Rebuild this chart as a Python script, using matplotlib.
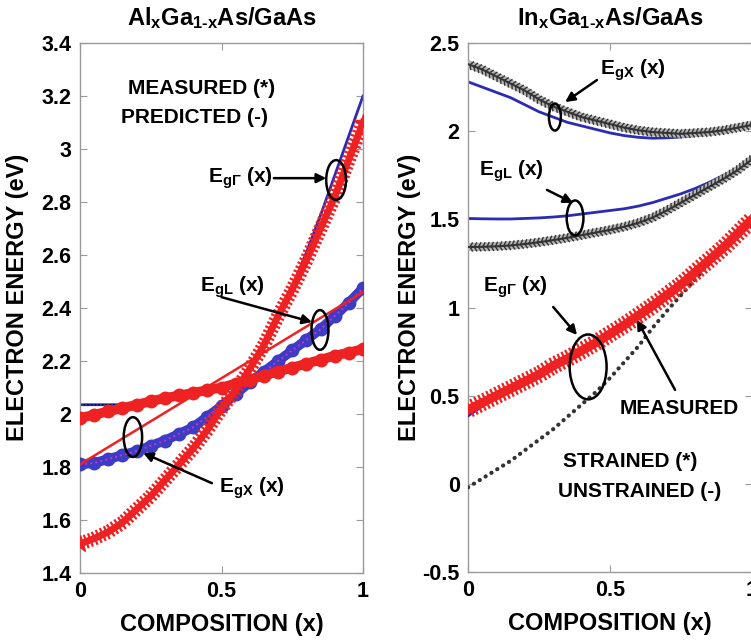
import numpy as np
import matplotlib
matplotlib.use("Agg")
from matplotlib import pyplot as plt
from matplotlib import patheffects as pe
from matplotlib.patches import Ellipse
from matplotlib.ticker import FuncFormatter

plt.rcParams['font.family'] = ['Liberation Sans', 'DejaVu Sans']
plt.rcParams['font.weight'] = 'bold'
plt.rcParams['mathtext.fontset'] = 'custom'
plt.rcParams['mathtext.rm'] = 'Liberation Sans:bold'
plt.rcParams['mathtext.it'] = 'Liberation Sans:bold'
plt.rcParams['mathtext.bf'] = 'Liberation Sans:bold'

# composition grid (step 0.05)
x = np.linspace(0, 1, 21)

# --- AlGaAs / GaAs (left) ---
al_gam_meas = [1.51, 1.53, 1.555, 1.59, 1.64, 1.69, 1.75, 1.81, 1.87, 1.94, 2.02,
               2.09, 2.17, 2.26, 2.37, 2.47, 2.58, 2.70, 2.82, 2.96, 3.10]
al_gam_pred = [1.51, 1.53, 1.555, 1.59, 1.64, 1.69, 1.75, 1.81, 1.87, 1.94, 2.02,
               2.09, 2.17, 2.26, 2.37, 2.48, 2.61, 2.75, 2.90, 3.05, 3.20]
al_egl_circ = [1.81, 1.815, 1.83, 1.845, 1.86, 1.88, 1.90, 1.925, 1.95, 1.99, 2.03,
               2.075, 2.12, 2.16, 2.20, 2.24, 2.28, 2.32, 2.37, 2.42, 2.475]
al_egx_circ = [1.985, 1.997, 2.01, 2.022, 2.035, 2.048, 2.06, 2.07, 2.08, 2.09, 2.10,
               2.115, 2.13, 2.145, 2.16, 2.175, 2.19, 2.205, 2.22, 2.232, 2.245]
al_egx_pred = [2.035, 2.035, 2.035, 2.035, 2.037, 2.048, 2.06, 2.07, 2.08, 2.09, 2.10,
               2.115, 2.13, 2.145, 2.16, 2.175, 2.19, 2.205, 2.22, 2.232, 2.245]
al_lin_x = [0, 1]
al_lin_y = [1.81, 2.46]

# --- InGaAs / GaAs (right) ---
in_egx_str = [2.38, 2.35, 2.31, 2.27, 2.23, 2.18, 2.14, 2.11, 2.08, 2.06, 2.04,
              2.02, 2.005, 1.995, 1.99, 1.985, 1.99, 1.995, 2.005, 2.02, 2.035]
in_egx_uns = [2.28, 2.25, 2.22, 2.19, 2.15, 2.11, 2.08, 2.05, 2.03, 2.01, 1.99,
              1.975, 1.965, 1.96, 1.962, 1.967, 1.975, 1.985, 1.998, 2.015, 2.03]
in_egl_str = [1.343, 1.344, 1.347, 1.352, 1.36, 1.37, 1.382, 1.395, 1.41, 1.425, 1.44,
              1.458, 1.48, 1.51, 1.55, 1.595, 1.64, 1.685, 1.73, 1.78, 1.84]
in_egl_uns = [1.505, 1.503, 1.502, 1.502, 1.505, 1.508, 1.513, 1.52, 1.53, 1.54, 1.55,
              1.56, 1.575, 1.595, 1.62, 1.645, 1.675, 1.71, 1.75, 1.79, 1.84]
in_gam_str = [0.42, 0.46, 0.50, 0.54, 0.58, 0.62, 0.67, 0.71, 0.755, 0.80, 0.85,
              0.90, 0.955, 1.01, 1.07, 1.13, 1.20, 1.27, 1.34, 1.42, 1.50]
in_gam_pred = [0.385, 0.44, 0.49, 0.53, 0.57, 0.61, 0.66, 0.70, 0.745, 0.79, 0.84,
               0.89, 0.945, 1.00, 1.06, 1.12, 1.19, 1.26, 1.33, 1.41, 1.49]
in_gam_uns = [-0.02, 0.03, 0.08, 0.13, 0.19, 0.25, 0.31, 0.38, 0.45, 0.52, 0.60,
              0.69, 0.78, 0.885, 0.98, 1.07, 1.16, 1.25, 1.34, 1.43, 1.52]

RED = '#ee2222'
BLUE = '#2b2bb5'
GRID = '#9a9a9a'
ARROW = dict(arrowstyle='-|>', color='black', lw=1.8, mutation_scale=14, shrinkA=0, shrinkB=0)


def star_band(width, tick):
    return [pe.Stroke(linewidth=width, foreground=RED),
            pe.TickedStroke(angle=90, spacing=3.2, length=tick, linewidth=1.6, foreground=RED),
            pe.TickedStroke(angle=-90, spacing=3.2, length=tick, linewidth=1.6, foreground=RED),
            pe.Normal()]


def gray_band():
    return [pe.Stroke(linewidth=6, foreground='#b5b5b5'),
            pe.TickedStroke(angle=60, spacing=3, length=1.1, linewidth=1.0, foreground='#333333'),
            pe.TickedStroke(angle=-60, spacing=3, length=1.1, linewidth=1.0, foreground='#333333'),
            pe.Normal()]


def style_axes(ax):
    for s in ax.spines.values():
        s.set_color(GRID)
        s.set_linewidth(1.0)
    ax.tick_params(direction='in', top=True, right=True, color=GRID, length=5,
                   labelsize=15.5, pad=6)
    ax.set_xlim(0, 1)
    ax.set_xticks([0, 0.5, 1])
    ax.xaxis.set_major_formatter(FuncFormatter(lambda v, p: '%g' % v))
    ax.yaxis.set_major_formatter(FuncFormatter(lambda v, p: '%g' % round(v, 2)))
    ax.set_xlabel('COMPOSITION (x)', fontsize=17, fontweight='bold')
    ax.set_ylabel('ELECTRON ENERGY (eV)', fontsize=17, fontweight='bold')


def ring(ax, cx, cy, w, h):
    ax.add_patch(Ellipse((cx, cy), w, h, fill=False, ec='black', lw=1.8, zorder=10))


def note(ax, txt, xy, ha='center'):
    ax.text(xy[0], xy[1], txt, fontsize=15, fontweight='bold', ha=ha, va='center', zorder=11)


def arrow(ax, tail, head):
    ax.annotate('', xy=head, xytext=tail, arrowprops=ARROW, zorder=11)


fig = plt.figure(figsize=(7.51, 6.40), dpi=100)
ax1 = fig.add_axes([80 / 751, 67 / 640, 283 / 751, 530 / 640])
ax2 = fig.add_axes([468 / 751, 68 / 640, 284 / 751, 529 / 640])

# ---------------- left panel ----------------
ax1.plot(x, al_gam_pred, color=BLUE, lw=2, zorder=2)
ax1.plot(x, al_egx_pred, color=BLUE, lw=2, zorder=2)
ax1.plot(x, al_egx_pred, color='black', lw=1, ls=':', zorder=2)
ax1.plot(x, al_egl_circ, color='#3c3cc4', lw=7, marker='o', ms=9, zorder=3,
         solid_capstyle='round')
ax1.plot(x, al_egl_circ, color='#d030d0', lw=1.4, ls=':', zorder=4)
ax1.plot(x, al_egx_circ, color=RED, lw=7, marker='o', ms=9, zorder=5,
         solid_capstyle='round')
ax1.plot(x, al_gam_meas, color=RED, lw=1, zorder=6, path_effects=star_band(5, 1.35))
ax1.plot(x[[0, -1]], [al_gam_meas[0], al_gam_meas[-1]], color=RED, marker='*', ms=13,
         ls='none', zorder=6)
ax1.plot(al_lin_x, al_lin_y, color=RED, lw=1.8, zorder=7)

ax1.set_ylim(1.4, 3.4)
ax1.set_yticks(np.arange(1.4, 3.41, 0.2))
style_axes(ax1)
ax1.yaxis.set_label_coords(-0.18, 0.52)
ax1.xaxis.set_label_coords(0.5, -0.075)
ax1.set_title(r'Al$_x$Ga$_{1\text{-}x}$As/GaAs', fontsize=17, fontweight='bold', pad=13)

note(ax1, 'MEASURED (*)', (0.428, 3.23))
note(ax1, 'PREDICTED (-)', (0.403, 3.117))

ring(ax1, 0.905, 2.883, 0.07, 0.15)
note(ax1, r'E$_{g\Gamma}$ (x)', (0.68, 2.89), ha='right')
arrow(ax1, (0.685, 2.89), (0.87, 2.89))
ring(ax1, 0.848, 2.317, 0.06, 0.15)
note(ax1, r'E$_{gL}$ (x)', (0.54, 2.479))
arrow(ax1, (0.50, 2.441), (0.82, 2.347))
ring(ax1, 0.187, 1.913, 0.065, 0.15)
note(ax1, r'E$_{gX}$ (x)', (0.49, 1.72), ha='left')
arrow(ax1, (0.466, 1.739), (0.223, 1.853))

# ---------------- right panel ----------------
ax2.plot(x, in_egx_uns, color=BLUE, lw=2, zorder=2)
ax2.plot(x, in_egl_uns, color=BLUE, lw=2, zorder=2)
ax2.plot(x, in_egx_str, color='#333333', lw=1.5, zorder=3, path_effects=gray_band())
ax2.plot(x, in_egl_str, color='#333333', lw=1.5, zorder=3, path_effects=gray_band())
ax2.plot(x, in_gam_uns, color='#333333', lw=3, ls=(0, (0.05, 1.6)),
         dash_capstyle='round', zorder=3)
ax2.plot(x, in_gam_pred, color=BLUE, lw=2, zorder=4)
ax2.plot(x, in_gam_str, color=RED, lw=1, zorder=5, path_effects=star_band(6.5, 1.7))

ax2.set_ylim(-0.5, 2.5)
ax2.set_yticks(np.arange(-0.5, 2.51, 0.5))
style_axes(ax2)
ax2.yaxis.set_label_coords(-0.165, 0.52)
ax2.xaxis.set_label_coords(0.5, -0.075)
ax2.set_title(r'In$_x$Ga$_{1\text{-}x}$As/GaAs', fontsize=17, fontweight='bold', pad=13)

ring(ax2, 0.306, 2.08, 0.042, 0.153)
note(ax2, r'E$_{gX}$ (x)', (0.465, 2.347), ha='left')
arrow(ax2, (0.454, 2.29), (0.342, 2.165))
ring(ax2, 0.377, 1.508, 0.059, 0.198)
note(ax2, r'E$_{gL}$ (x)', (0.04, 1.77), ha='left')
arrow(ax2, (0.278, 1.667), (0.37, 1.593))
ring(ax2, 0.423, 0.663, 0.13, 0.368)
note(ax2, r'E$_{g\Gamma}$ (x)', (0.053, 1.117), ha='left')
arrow(ax2, (0.30, 1.003), (0.384, 0.844))
note(ax2, 'MEASURED', (0.743, 0.43))
arrow(ax2, (0.729, 0.533), (0.595, 0.93))
note(ax2, 'STRAINED (*)', (0.57, 0.124))
note(ax2, 'UNSTRAINED (-)', (0.606, -0.046))

fig.savefig('out.png', dpi=100)
